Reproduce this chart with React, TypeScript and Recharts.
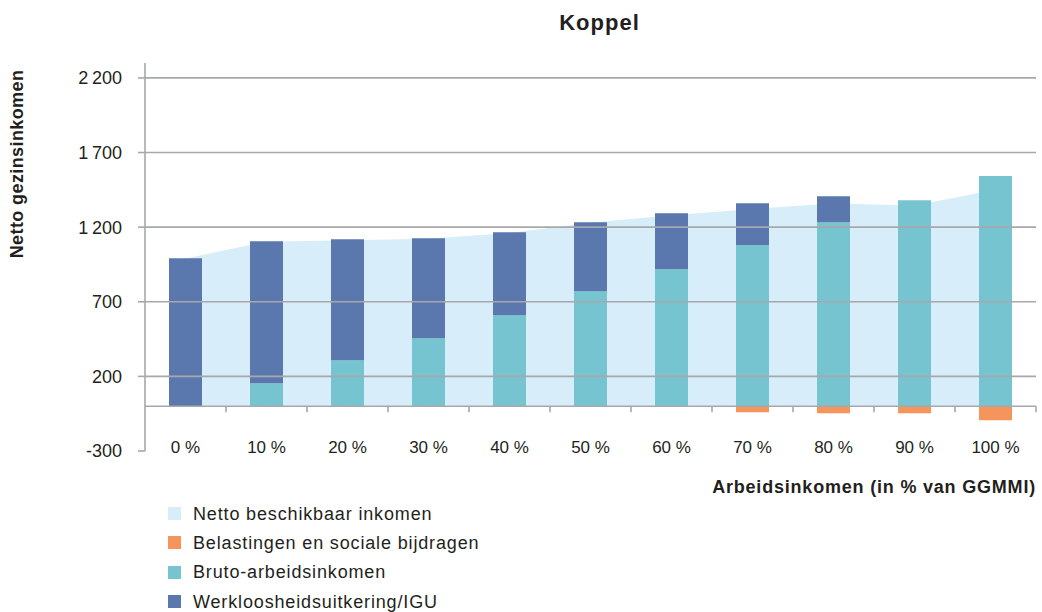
import React from "react";
import {
  ComposedChart,
  Area,
  Bar,
  XAxis,
  YAxis,
  ReferenceLine,
} from "recharts";

const categories = ["0 %", "10 %", "20 %", "30 %", "40 %", "50 %", "60 %", "70 %", "80 %", "90 %", "100 %"];
const netto = [990, 1103, 1112, 1122, 1160, 1230, 1280, 1322, 1358, 1345, 1450];
const belastingen = [0, 0, 0, 0, -5, -5, -5, -40, -47, -47, -94];
const bruto = [0, 154, 308, 456, 610, 771, 918, 1079, 1233, 1381, 1542];
const werkloos = [992, 952, 811, 670, 556, 462, 376, 282, 174, 0, 0];
const yTicks = [-300, 200, 700, 1200, 1700, 2200];

const legendLabels = [
  "Netto beschikbaar inkomen",
  "Belastingen en sociale bijdragen",
  "Bruto-arbeidsinkomen",
  "Werkloosheidsuitkering/IGU",
];

const COLORS = {
  netto: "#d7edf9",
  belastingen: "#f6955b",
  bruto: "#77c4d1",
  werkloos: "#5a78ae",
  grid: "#a7a8ab",
  text: "#231f20",
};
const legendColors = [COLORS.netto, COLORS.belastingen, COLORS.bruto, COLORS.werkloos];

const FONT = "'Liberation Sans', Arial, sans-serif";

const data = categories.map((name, i) => ({
  name,
  netto: netto[i],
  belastingen: belastingen[i],
  bruto: bruto[i],
  werkloos: werkloos[i],
}));

const formatY = (v: number) => {
  if (Math.abs(v) >= 1000) {
    const s = String(v);
    return s.slice(0, s.length - 3) + "\u2009" + s.slice(-3);
  }
  return String(v);
};

// x-axis tick labels sit inside the plot, level with the -300 line
const XTick = (props: any) => {
  const { x, y, payload } = props;
  return (
    <text x={x} y={y + 2} textAnchor="middle" fontSize={17} fill={COLORS.text} fontFamily={FONT}>
      {payload.value}
    </text>
  );
};

// zero line with small tick marks between categories
const ZeroLine = (props: any) => {
  const { x1, y1, x2, y2 } = props;
  const step = (x2 - x1) / categories.length;
  return (
    <g>
      <line x1={x1} y1={y1} x2={x2} y2={y2} stroke={COLORS.grid} strokeWidth={1.6} />
      {categories.map((_, i) => (
        <line
          key={i}
          x1={x1 + step * (i + 1)}
          x2={x1 + step * (i + 1)}
          y1={y1}
          y2={y1 + 6}
          stroke={COLORS.grid}
          strokeWidth={1.6}
        />
      ))}
    </g>
  );
};

export default function App() {
  return (
    <div style={{ position: "absolute", left: 0, top: 0, width: 1042, height: 612, fontFamily: FONT, color: COLORS.text }}>
      <div
        style={{
          position: "absolute",
          left: 0,
          width: 1199,
          top: 12,
          textAlign: "center",
          fontSize: 22,
          fontWeight: "bold",
          lineHeight: 1,
          letterSpacing: 1,
        }}
      >
        Koppel
      </div>
      <div
        style={{
          position: "absolute",
          left: 17,
          top: 164,
          transform: "translate(-50%, -50%) rotate(-90deg)",
          whiteSpace: "nowrap",
          fontSize: 18,
          fontWeight: "bold",
          lineHeight: 1,
          letterSpacing: 0.4,
        }}
      >
        Netto gezinsinkomen
      </div>
      <ComposedChart
        width={1042}
        height={612}
        data={data}
        stackOffset="sign"
        margin={{ top: 63, right: 6, left: 0, bottom: 0 }}
      >
        <XAxis
          dataKey="name"
          height={161}
          axisLine={false}
          tickLine={false}
          tickSize={0}
          tickMargin={0}
          interval={0}
          tick={<XTick />}
        />
        <YAxis
          width={145}
          domain={[-300, 2300]}
          ticks={yTicks}
          tickFormatter={formatY}
          axisLine={{ stroke: COLORS.grid, strokeWidth: 1.6 }}
          tickLine={{ stroke: COLORS.grid, strokeWidth: 1.6 }}
          tickSize={7}
          tickMargin={16}
          tick={{ fill: COLORS.text, fontSize: 18, fontFamily: FONT }}
        />
        <Area
          type="linear"
          dataKey="netto"
          fill={COLORS.netto}
          fillOpacity={1}
          stroke="none"
          isAnimationActive={false}
        />
        <Bar dataKey="bruto" stackId="s" fill={COLORS.bruto} barSize={33} isAnimationActive={false} />
        <Bar dataKey="werkloos" stackId="s" fill={COLORS.werkloos} barSize={33} isAnimationActive={false} />
        <Bar dataKey="belastingen" stackId="s" fill={COLORS.belastingen} barSize={33} isAnimationActive={false} />
        {yTicks.slice(1).map((v) => (
          <ReferenceLine key={v} y={v} stroke={COLORS.grid} strokeWidth={1.6} />
        ))}
        <ReferenceLine y={0} shape={<ZeroLine />} />
      </ComposedChart>
      <div
        style={{
          position: "absolute",
          right: 1042 - 1036,
          top: 478,
          fontSize: 18,
          fontWeight: "bold",
          lineHeight: 1,
          letterSpacing: 0.8,
          whiteSpace: "nowrap",
        }}
      >
        Arbeidsinkomen (in % van GGMMI)
      </div>
      {legendLabels.map((label, i) => (
        <React.Fragment key={label}>
          <div
            style={{
              position: "absolute",
              left: 168,
              top: 507 + i * 29.3,
              width: 13,
              height: 13,
              background: legendColors[i],
            }}
          />
          <div
            style={{
              position: "absolute",
              left: 193,
              top: 504.7 + i * 29.3,
              fontSize: 18,
              lineHeight: 1,
              letterSpacing: 0.85,
              whiteSpace: "nowrap",
            }}
          >
            {label}
          </div>
        </React.Fragment>
      ))}
    </div>
  );
}
